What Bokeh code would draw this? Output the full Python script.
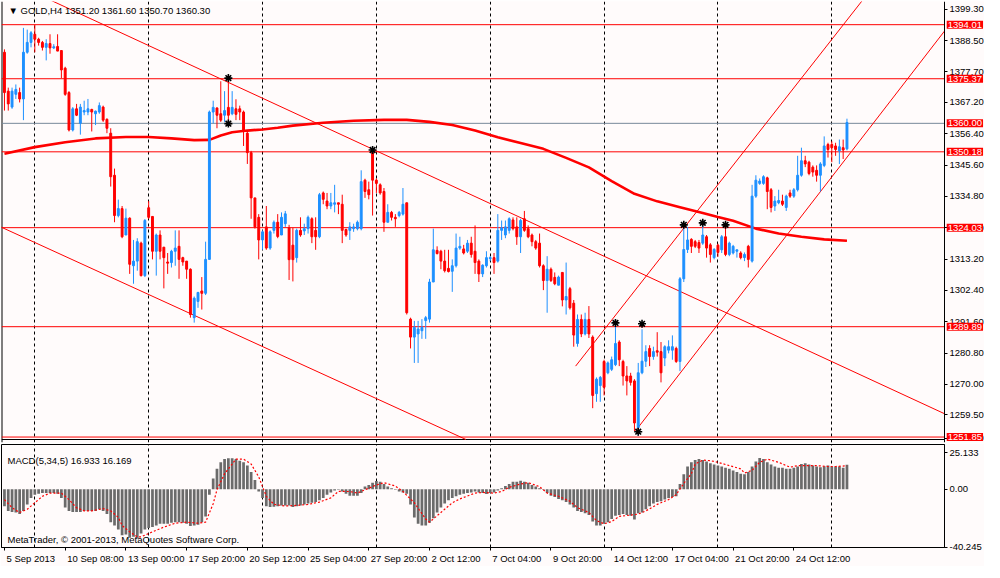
from bokeh.plotting import figure
from bokeh.layouts import column
from bokeh.models import Range1d, FixedTicker, Label, NumeralTickFormatter, ColumnDataSource
from bokeh.embed import file_html
from bokeh.resources import INLINE

# ---------------- data ----------------
symbol = "GOLD,H4"
opens = [
1384.5,1371.1,1365.6,1370.0,1370.6,1368.4,1384.5,1387.9,1390.7,1389.0,
1387.9,1386.2,1387.5,1386.0,1386.5,1385.1,1379.0,1370.6,1357.7,1365.0,
1360.0,1363.9,1363.9,1364.8,1363.3,1363.9,1365.6,1361.4,1356.6,1342.1,
1328.2,1330.6,1321.5,1327.3,1310.9,1312.5,1318.7,1307.5,1330.9,1327.9,
1315.9,1321.5,1317.3,1312.2,1312.0,1315.9,1317.6,1313.7,1312.5,1309.7,
1293.0,1298.6,1302.2,1301.4,1313.1,1363.9,1365.3,1363.3,1362.8,1365.5,
1363.3,1365.0,1365.0,1363.9,1356.6,1349.9,1334.3,1327.6,1319.8,1324.3,
1317.0,1323.1,1325.9,1321.5,1325.4,1324.0,1318.0,1313.7,1323.1,1322.9,
1323.7,1327.1,1323.1,1320.9,1336.0,1333.2,1331.5,1332.1,1332.6,1332.1,
1323.4,1323.1,1323.7,1323.7,1323.7,1340.4,1337.1,1350.0,1340.4,1338.8,
1336.5,1325.9,1329.3,1327.6,1328.2,1328.7,1332.6,1292.5,1286.3,1287.4,
1288.5,1292.0,1292.5,1305.3,1316.2,1315.9,1312.5,1310.0,1309.0,1310.9,
1317.0,1316.7,1315.9,1318.7,1315.9,1312.5,1308.1,1310.9,1313.4,1313.7,
1312.5,1323.1,1321.5,1323.1,1326.7,1324.3,1320.9,1327.1,1323.7,1321.5,
1319.2,1318.7,1310.9,1305.8,1309.7,1306.9,1304.2,1308.6,1299.1,1303.0,
1298.0,1284.1,1292.4,1287.4,1292.4,1286.3,1266.8,1269.6,1277.9,1274.0,
1275.2,1276.8,1284.6,1277.9,1272.9,1272.9,1271.2,1255.1,1274.0,1278.0,
1282.4,1279.6,1281.6,1281.3,1279.1,1281.8,1281.8,1282.4,1277.9,1306.4,
1316.5,1320.0,1319.2,1318.9,1318.7,1320.9,1318.1,1313.7,1318.0,1316.4,
1320.9,1314.8,1315.3,1315.9,1315.3,1313.7,1317.6,1312.5,1334.9,1339.3,
1339.3,1341.2,1337.1,1331.5,1332.6,1333.2,1331.0,1336.0,1334.9,1337.1,
1342.1,1347.1,1346.6,1344.9,1343.8,1342.1,1345.5,1352.7,1352.7,1352.2,
1350.5,1351.6,1351.2]
highs = [
1385.5,1372.3,1372.3,1373.4,1372.3,1392.9,1392.3,1391.8,1394.0,1389.5,
1388.4,1389.0,1390.7,1387.3,1390.7,1385.1,1379.5,1371.1,1365.6,1366.7,
1366.7,1367.8,1368.4,1365.0,1364.4,1367.2,1366.1,1361.7,1358.3,1344.4,
1333.7,1331.5,1330.6,1327.6,1319.8,1320.4,1319.2,1327.0,1333.2,1327.9,
1322.0,1323.1,1317.4,1315.3,1316.4,1323.1,1323.1,1314.0,1312.5,1310.0,
1300.3,1301.9,1307.0,1319.2,1364.4,1367.8,1365.5,1374.5,1371.1,1374.9,
1371.1,1368.3,1366.1,1364.4,1357.2,1350.5,1334.3,1328.7,1323.1,1331.5,
1323.1,1326.5,1328.7,1329.3,1329.8,1325.0,1324.0,1323.7,1327.6,1325.4,
1328.2,1327.6,1327.6,1336.0,1336.5,1336.0,1336.0,1338.8,1332.6,1335.4,
1323.7,1325.9,1325.4,1326.5,1343.8,1340.9,1339.9,1351.0,1341.0,1339.3,
1337.7,1332.1,1329.8,1328.7,1329.8,1337.7,1332.6,1293.0,1291.9,1291.9,
1292.5,1293.6,1306.4,1323.7,1317.6,1316.4,1316.4,1316.4,1313.1,1322.0,
1320.9,1318.1,1319.8,1320.9,1324.8,1313.1,1311.4,1315.9,1314.2,1315.3,
1328.7,1326.5,1326.5,1327.6,1327.6,1327.6,1327.1,1329.8,1324.8,1322.0,
1319.8,1322.0,1311.4,1314.2,1310.3,1308.6,1307.5,1308.6,1312.0,1303.6,
1299.1,1294.1,1294.1,1294.7,1297.0,1286.9,1272.4,1272.9,1278.5,1277.9,
1279.6,1290.8,1285.2,1278.5,1276.3,1274.0,1271.8,1277.4,1289.0,1283.5,
1283.5,1283.0,1288.0,1284.6,1283.5,1285.2,1286.9,1283.0,1307.0,1324.3,
1324.3,1320.4,1319.8,1319.8,1326.5,1321.5,1318.7,1317.0,1318.5,1321.5,
1324.8,1319.2,1318.1,1316.4,1315.9,1315.5,1318.1,1338.8,1342.1,1341.0,
1342.1,1341.6,1337.7,1334.9,1337.1,1335.4,1335.4,1337.1,1337.7,1348.8,
1351.6,1348.8,1347.1,1345.5,1345.5,1346.6,1355.5,1353.3,1353.8,1353.3,
1354.4,1354.4,1361.6]
lows = [
1364.4,1364.4,1365.0,1368.4,1367.2,1361.1,1384.0,1386.2,1384.5,1386.8,
1385.1,1381.7,1384.0,1385.6,1384.9,1375.6,1369.5,1357.2,1357.2,1362.5,
1356.1,1362.8,1362.8,1357.2,1359.4,1363.3,1360.5,1356.6,1338.2,1325.9,
1327.6,1320.4,1321.5,1308.1,1304.7,1309.2,1307.2,1307.0,1327.0,1313.1,
1307.5,1313.1,1303.1,1308.1,1310.3,1310.9,1306.4,1310.9,1306.4,1293.0,
1291.3,1296.4,1295.8,1300.8,1313.1,1360.0,1358.3,1360.5,1360.5,1360.0,
1362.8,1361.1,1361.1,1352.2,1346.0,1327.1,1323.7,1313.1,1316.4,1316.4,
1316.4,1322.0,1320.4,1321.5,1324.3,1306.0,1305.5,1312.0,1320.9,1321.5,
1322.0,1318.7,1316.4,1320.4,1332.1,1330.4,1330.4,1329.3,1328.7,1318.7,
1320.9,1319.8,1322.6,1323.1,1323.1,1334.3,1333.8,1328.2,1336.0,1335.4,
1322.6,1325.9,1326.5,1324.3,1327.6,1328.2,1294.1,1282.4,1277.4,1277.4,
1285.7,1285.7,1291.3,1305.3,1314.8,1309.7,1308.6,1308.6,1301.9,1310.3,
1316.4,1314.8,1315.3,1313.7,1308.1,1305.3,1307.0,1310.3,1312.5,1308.1,
1312.0,1319.8,1320.4,1322.0,1323.1,1318.1,1315.3,1322.6,1320.4,1317.6,
1316.4,1310.3,1302.5,1294.7,1305.3,1304.2,1304.2,1296.9,1294.1,1295.8,
1283.0,1283.0,1286.3,1286.9,1286.0,1261.8,1264.0,1264.0,1266.2,1273.5,
1274.6,1276.3,1276.3,1269.6,1266.2,1269.6,1253.9,1252.3,1273.5,1276.0,
1276.3,1278.5,1279.6,1270.7,1276.3,1280.7,1278.5,1277.4,1274.6,1305.3,
1315.3,1315.3,1317.0,1315.3,1318.1,1313.7,1312.0,1313.1,1314.0,1315.3,
1314.2,1314.2,1314.8,1313.7,1313.1,1312.5,1310.3,1312.0,1334.3,1338.8,
1338.8,1330.4,1329.3,1329.8,1332.1,1331.5,1329.8,1334.3,1334.3,1336.5,
1341.6,1344.9,1342.1,1341.6,1339.9,1336.5,1344.9,1348.2,1346.6,1348.8,
1346.0,1347.7,1350.7]
closes = [
1370.6,1366.7,1371.1,1371.7,1368.4,1384.5,1387.9,1391.2,1389.0,1387.9,
1386.2,1387.5,1386.0,1386.4,1384.9,1378.4,1370.0,1357.7,1365.0,1362.8,
1365.6,1364.4,1365.0,1363.9,1364.2,1366.1,1361.1,1358.3,1341.6,1328.2,
1330.6,1320.9,1327.3,1311.4,1312.5,1319.2,1307.5,1326.5,1327.6,1315.9,
1321.5,1315.9,1313.7,1311.8,1315.9,1317.0,1313.1,1312.2,1309.7,1294.1,
1299.7,1301.7,1301.4,1313.1,1363.9,1365.5,1362.8,1361.1,1364.4,1362.8,
1365.5,1363.1,1363.9,1357.2,1349.9,1334.3,1324.3,1319.8,1322.6,1317.0,
1322.6,1325.9,1321.0,1327.6,1328.8,1313.0,1313.0,1323.1,1321.5,1323.7,
1327.6,1320.9,1320.9,1335.4,1333.8,1331.5,1332.6,1332.6,1332.1,1323.1,
1321.5,1324.3,1324.3,1325.9,1339.9,1336.5,1335.4,1340.4,1339.3,1336.0,
1325.9,1329.3,1327.6,1327.1,1329.3,1332.1,1294.7,1286.3,1289.7,1289.1,
1289.7,1293.0,1305.3,1316.4,1315.1,1312.5,1309.2,1308.9,1310.9,1317.0,
1317.6,1315.3,1318.7,1314.8,1312.0,1308.1,1311.1,1313.7,1313.7,1312.0,
1323.1,1324.0,1324.3,1327.1,1323.7,1320.9,1326.5,1323.1,1320.9,1319.2,
1317.0,1310.9,1305.8,1309.7,1305.8,1304.7,1307.0,1299.1,1300.3,1296.4,
1287.0,1292.4,1287.4,1292.4,1287.4,1266.2,1271.8,1272.4,1269.0,1277.4,
1278.5,1284.1,1278.5,1272.9,1271.2,1270.7,1256.7,1274.0,1278.0,1281.3,
1279.6,1281.3,1281.1,1274.0,1283.0,1283.0,1283.0,1277.9,1306.4,1316.5,
1319.8,1317.6,1317.6,1317.0,1321.5,1317.0,1314.8,1316.5,1315.5,1320.9,
1314.8,1318.7,1317.6,1316.4,1313.7,1314.8,1313.1,1334.9,1340.4,1340.1,
1341.6,1336.5,1331.0,1333.2,1333.4,1332.1,1334.9,1334.9,1337.1,1342.1,
1347.1,1346.0,1342.7,1343.2,1342.1,1346.0,1352.2,1351.0,1351.6,1351.0,
1351.9,1350.8,1360.3]

# moving average (thick red curve), sampled along the chart
ma_idx = [0, 8, 16, 24, 32, 38, 44, 50, 54, 57, 60, 64, 68, 72, 76, 84, 92, 100, 106, 112,
          118, 124, 130, 136, 142, 148, 154, 160, 166, 172, 178, 184, 188, 192, 198, 204,
          210, 216, 222]
ma_val = [1349.5, 1351.8, 1353.5, 1354.8, 1355.3, 1355.3, 1354.8, 1354.2, 1354.3, 1355.8,
          1356.9, 1357.5, 1357.9, 1358.5, 1359.2, 1360.2, 1360.9, 1361.2, 1361.2, 1360.5,
          1359.4, 1357.5, 1355.2, 1353.2, 1351.2, 1348.1, 1344.8, 1340.1, 1335.7, 1333.1,
          1331.1, 1329.1, 1327.7, 1326.4, 1323.7, 1322.0, 1320.9, 1320.0, 1319.5]

# MACD(5,34,5) histogram (one value per bar) and signal line
macd = [
-11.7,-15.0,-15.7,-16.1,-17.2,-15.0,-10.5,-6.1,-3.8,-3.1,
-2.7,-2.7,-2.7,-2.7,-3.1,-6.1,-12.7,-15.0,-15.7,-15.7,
-15.7,-15.0,-15.0,-15.0,-15.0,-13.9,-15.0,-17.2,-22.8,-25.1,
-27.8,-31.8,-31.3,-33.5,-32.9,-34.0,-30.6,-27.8,-26.9,-26.2,
-25.1,-23.9,-23.9,-23.9,-23.2,-22.8,-22.8,-23.2,-23.9,-25.5,
-25.1,-24.6,-22.8,-18.9,-3.8,7.4,14.1,18.6,20.8,21.4,
21.4,20.8,19.7,18.6,16.3,11.9,6.3,-1.6,-6.1,-11.7,
-12.3,-12.1,-11.7,-11.2,-11.2,-11.2,-12.3,-11.7,-11.2,-10.5,
-9.8,-9.4,-8.9,-7.6,-6.1,-3.8,-2.2,-0.9,-0.3,-1.6,
-3.1,-4.5,-4.5,-4.5,-2.7,1.8,2.9,4.5,5.6,5.1,
3.6,1.8,0.7,-0.4,-1.6,-2.2,-3.1,-10.5,-19.5,-23.9,
-25.1,-25.1,-23.2,-20.1,-16.1,-12.7,-9.8,-7.6,-6.1,-4.9,
-3.8,-3.1,-2.7,-2.2,-1.6,-2.2,-2.7,-3.4,-2.7,-2.2,
-0.9,0.7,2.2,3.6,5.1,5.1,5.8,5.1,4.5,2.9,
1.8,0.7,-0.4,-2.7,-4.5,-5.4,-6.7,-7.6,-8.9,-10.5,
-12.7,-15.0,-15.7,-16.6,-17.9,-22.4,-25.1,-25.1,-23.9,-22.8,
-20.6,-18.3,-17.9,-17.2,-17.9,-18.3,-21.0,-16.6,-16.1,-13.9,
-11.7,-9.8,-8.9,-8.3,-7.2,-6.1,-5.4,-4.9,3.6,10.3,
15.7,18.6,20.1,20.8,20.1,19.2,17.9,17.0,16.3,15.7,
14.8,14.1,13.0,11.9,10.7,10.3,11.9,15.7,19.2,21.5,
20.8,18.6,17.0,15.7,14.8,14.8,14.1,14.1,14.8,15.7,
17.4,17.9,17.0,16.3,15.7,15.2,15.9,16.3,15.7,15.7,
15.7,14.8,16.933]
sig_idx = [0, 2, 4, 6, 8, 10, 12, 15, 17, 19, 21, 23, 26, 28, 30, 31, 33, 35, 36, 39, 42, 45,
           48, 51, 53, 55, 56, 58, 60, 61, 63, 65, 67, 68, 69, 71, 74, 77, 80, 83, 86, 88,
           91, 93, 95, 98, 100, 103, 105, 108, 111, 112, 115, 118, 120, 124, 126, 129, 131,
           133, 136, 138, 141, 143, 146, 149, 151, 154, 156, 158, 160, 162, 165, 167, 169,
           172, 175, 177, 179, 181, 182, 184, 186, 188, 191, 194, 195, 197, 199, 201, 204,
           207, 209, 212, 214, 217, 219, 222]
sig_val = [-7.2, -12.8, -16.1, -13.9, -9.4, -4.9, -2.7, -2.7, -7.2, -12.8, -15.0, -15.0, -13.4,
           -15.0, -19.5, -25.1, -29.5, -32.9, -32.9, -29.5, -26.2, -23.5, -22.8, -23.5, -22.8,
           -10.0, -0.4, 10.7, 17.4, 20.8, 20.8, 17.4, 8.5, 1.8, -4.9, -10.5, -11.6, -11.2,
           -10.5, -8.9, -6.0, -1.5, -1.6, -2.7, -0.4, 2.9, 4.5, 2.2, -1.6, -9.4, -20.6, -22.8,
           -16.1, -9.4, -6.7, -2.7, -2.2, -2.7, -1.6, 1.3, 3.6, 4.5, 1.8, -2.7, -4.9, -8.3,
           -12.8, -16.1, -21.7, -23.9, -22.4, -18.8, -17.9, -17.2, -15.0, -10.5, -7.2, -3.8,
           4.0, 10.7, 17.4, 20.1, 19.7, 18.6, 16.3, 14.1, 11.2, 13.0, 18.6, 20.8, 18.6, 15.2,
           16.3, 16.3, 16.3, 15.7, 15.7, 16.169]
macd_top, macd_bottom = 25.133, -40.245

# horizontal price levels and the bid line
levels = [1394.01, 1375.37, 1350.18, 1324.03, 1289.89, 1251.85]
bid = 1360.00

# fractal marks
frac_hi_idx = [59, 97, 161, 168, 179, 184, 190]
frac_hi_price = [1375.6, 1350.8, 1291.2, 1290.9, 1325.0, 1325.7, 1325.0]
frac_lo_idx = [59, 167]
frac_lo_price = [1359.9, 1253.7]

# trend lines: two anchor points (bar index, price) each
trend_down_1 = [(59, 1374.1), (97, 1351.1)]
trend_down_2 = [(0, 1323.7), (64.4, 1285.2)]
trend_up_1 = [(150.5, 1276.3), (206.0, 1368.9)]
trend_up_2 = [(166.3, 1254.0), (224.6, 1352.7)]

# price axis ticks
price_ticks = [1399.30, 1388.50, 1377.70, 1367.20, 1356.40, 1345.60, 1334.80, 1324.00,
               1313.20, 1302.40, 1291.60, 1280.80, 1270.00, 1259.50]
price_window_min = "1248.70"

# time axis: bar index of each date label
date_tick_idx = [0, 16, 32, 48, 64, 80, 96, 112, 128, 144, 160, 176, 192, 208]
date_labels = ["5 Sep 2013", "10 Sep 08:00", "13 Sep 00:00", "17 Sep 20:00", "20 Sep 12:00",
               "25 Sep 04:00", "27 Sep 20:00", "2 Oct 12:00", "7 Oct 04:00", "9 Oct 20:00",
               "14 Oct 12:00", "17 Oct 04:00", "21 Oct 20:00", "24 Oct 12:00"]
grid_idx = [8, 38, 68, 98, 128, 158, 188, 218]

# ---------------- styling / layout ----------------
BG = "#FFFBFB"
BLUE = "#1E90FF"
RED = "#FF0000"
FONT = "Liberation Sans"
FS = "9.5px"
CHART_PX = 943              # width of the chart area in pixels
FRAME_W = 983               # price panel: chart area + price scale area
X0 = -0.78                  # bar index at the left edge
CHART_END = 247.7           # bar index at the price scale line
px_per_idx = CHART_PX / (CHART_END - X0)
XR = Range1d(X0, X0 + FRAME_W / px_per_idx)
XR_M = Range1d(X0, CHART_END)
PANEL_LO, PRICE_HI = 1251.0, 1402.0     # price at the bottom edge of the chart area
PRICE_LO = 1249.97                      # a little room below it for the scale's tags
MACD_LO, MACD_HI = -40.3, 30.9

n = len(opens)
assert len(highs) == n and len(lows) == n and len(closes) == n and len(macd) == n
assert len(ma_idx) == len(ma_val) and len(sig_idx) == len(sig_val)
idx = list(range(n))
cols = [BLUE if c >= o else RED for o, c in zip(opens, closes)]
src = ColumnDataSource(dict(
    x=idx, h=highs, l=lows,
    top=[max(o, c) for o, c in zip(opens, closes)],
    bot=[min(o, c) for o, c in zip(opens, closes)],
    col=cols))


def style_yaxis(ax):
    ax.major_label_text_font = FONT
    ax.major_label_text_font_size = FS
    ax.major_label_text_color = "black"
    ax.major_tick_in = 0
    ax.major_tick_out = 3
    ax.major_tick_line_color = "black"
    ax.minor_tick_line_color = None
    ax.axis_line_color = "black"
    ax.major_label_standoff = 2


def style_grid(fig):
    fig.xgrid.ticker = FixedTicker(ticks=grid_idx)
    fig.xgrid.grid_line_color = "black"
    fig.xgrid.grid_line_dash = "3 3"
    fig.xgrid.grid_line_width = 1
    fig.ygrid.grid_line_color = None


# ---------------- price panel ----------------
p = figure(frame_width=FRAME_W, frame_height=441, x_range=XR,
           y_range=Range1d(PRICE_LO, PRICE_HI),
           x_axis_location=None, y_axis_location="right",
           output_backend="svg", toolbar_location=None,
           min_border_left=1, min_border_top=1, min_border_bottom=1, min_border_right=0,
           background_fill_color=BG, border_fill_color=BG, outline_line_color=None)
style_grid(p)
style_yaxis(p.yaxis[0])
p.yaxis.fixed_location = CHART_END
bottom_tick = PRICE_LO + 1.55
p.yaxis.ticker = FixedTicker(ticks=price_ticks + [bottom_tick])
p.yaxis.formatter = NumeralTickFormatter(format="0.00")
p.yaxis.major_label_overrides = {bottom_tick: price_window_min}
# left and bottom border of the chart area
p.line([X0, X0], [PRICE_LO, PRICE_HI], line_color="black", line_width=2)
p.line([X0, CHART_END], [PANEL_LO, PANEL_LO], line_color="black", line_width=1)

# level lines (up to the price scale)
p.segment(x0=[X0] * len(levels), x1=[CHART_END] * len(levels), y0=levels, y1=levels,
          line_color=RED, line_width=1)
p.segment(x0=[X0], x1=[CHART_END], y0=[bid], y1=[bid], line_color="#778899", line_width=1)

# trend lines
def seg(anchors, from_left):
    (x0, y0), (x1, y1) = anchors
    k = (y1 - y0) / (x1 - x0)
    xs = X0 - 1 if from_left else x0
    xe = CHART_END
    if k < 0:  # stop descending rays at the bottom edge of the chart area
        xe = min(xe, x0 + (PANEL_LO - y0) / k)
    return [xs, xe], [y0 + k * (xs - x0), y0 + k * (xe - x0)]

for anchors, full in [(trend_down_1, True), (trend_down_2, True),
                      (trend_up_1, False), (trend_up_2, False)]:
    xs, ys = seg(anchors, full)
    p.line(xs, ys, line_color=RED, line_width=1)

# moving average
p.line(ma_idx, ma_val, line_color=RED, line_width=2.6)

# candles
p.segment(x0="x", y0="l", x1="x", y1="h", line_color="col", line_width=1, source=src)
p.vbar(x="x", width=0.5, top="top", bottom="bot", fill_color="col", line_color="col",
       line_width=1, source=src)

# fractals
p.scatter(frac_hi_idx, frac_hi_price, marker="asterisk", size=8, line_color="black", line_width=1.6)
p.scatter(frac_lo_idx, frac_lo_price, marker="asterisk", size=8, line_color="black", line_width=1.6)

# price tags on the price scale
for v in levels + [bid]:
    p.add_layout(Label(x=CHART_END + 2.2 / px_per_idx, y=v, text=f"{v:.2f}", text_font=FONT,
                       text_font_size=FS, text_color="white", text_baseline="middle",
                       text_align="left", background_fill_color=RED, padding=1))

header = "\u25BC " + symbol + "  " + " ".join(
    f"{v:.2f}" for v in (opens[-1], highs[-1], lows[-1], closes[-1]))
p.add_layout(Label(x=7, y=432, x_units="screen", y_units="screen", text=header,
                   text_font=FONT, text_font_size=FS, text_color="black",
                   text_baseline="middle"))

# ---------------- MACD panel ----------------
m = figure(frame_width=CHART_PX, frame_height=103, x_range=XR_M, y_range=Range1d(MACD_LO, MACD_HI),
           y_axis_location="right", output_backend="svg", toolbar_location=None,
           min_border_left=1, min_border_top=1, min_border_bottom=15, min_border_right=40,
           background_fill_color=BG, border_fill_color=BG, outline_line_color="black")
style_grid(m)
style_yaxis(m.yaxis[0])
m.yaxis.ticker = FixedTicker(ticks=[macd_top, 0.0, macd_bottom])
m.yaxis.major_label_overrides = {macd_top: f"{macd_top:.3f}", 0.0: "0.00",
                                 macd_bottom: f"{macd_bottom:.3f}"}

m.vbar(x=idx, top=macd, bottom=0, width=0.72, fill_color="#6b6b6b", line_color=None)
m.line(sig_idx, sig_val, line_color=RED, line_dash="2 2", line_width=1.2)

m.add_layout(Label(x=6, y=87, x_units="screen", y_units="screen",
                   text=f"MACD(5,34,5) {macd[-1]:.3f} {sig_val[-1]:.3f}",
                   text_font=FONT, text_font_size=FS, text_color="black", text_baseline="middle"))
m.add_layout(Label(x=6, y=8, x_units="screen", y_units="screen",
                   text="MetaTrader, \u00a9 2001-2013, MetaQuotes Software Corp.",
                   text_font=FONT, text_font_size=FS, text_color="black", text_baseline="middle"))

# date axis: labels start just right of their tick, as in MetaTrader
ARIAL_W = {"0": 556, "1": 556, "2": 556, "3": 556, "4": 556, "5": 556, "6": 556, "7": 556,
           "8": 556, "9": 556, " ": 278, ":": 278, "S": 667, "e": 556, "p": 556, "O": 778,
           "c": 500, "t": 278}
size_px = 9.5
centers = [round(t + (2 + sum(ARIAL_W.get(ch, 556) for ch in s) / 1000 * size_px / 2) / px_per_idx, 3)
           for t, s in zip(date_tick_idx, date_labels)]
xa = m.xaxis[0]
xa.ticker = FixedTicker(ticks=centers, minor_ticks=date_tick_idx)
xa.major_label_overrides = {c: s for c, s in zip(centers, date_labels)}
xa.major_tick_line_color = None
xa.major_tick_out = 0
xa.major_tick_in = 0
xa.minor_tick_in = 0
xa.minor_tick_out = 3
xa.minor_tick_line_color = "black"
xa.axis_line_color = "black"
xa.major_label_standoff = 2
xa.major_label_text_font = FONT
xa.major_label_text_font_size = FS
xa.major_label_text_color = "black"

layout = column(p, m, spacing=0)
open("out.html", "w").write(file_html(layout, INLINE, title="GOLD,H4"))
